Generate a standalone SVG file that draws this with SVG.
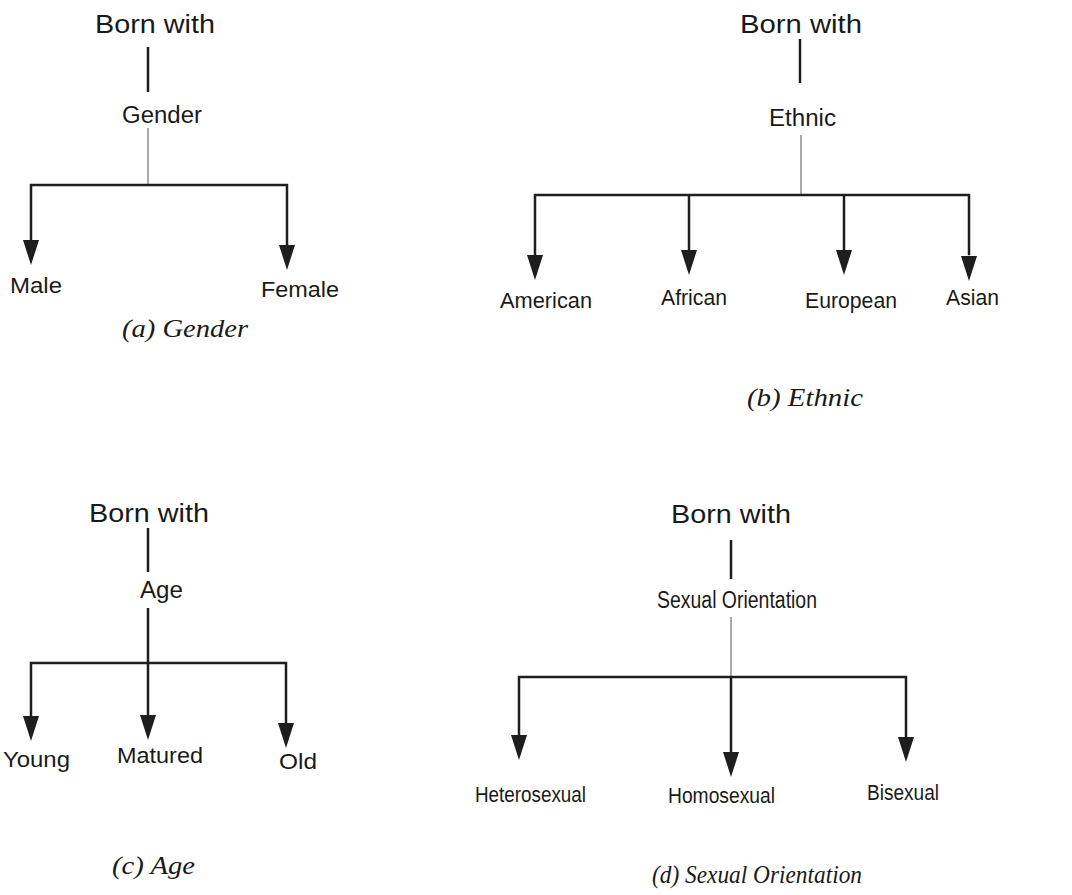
<svg xmlns="http://www.w3.org/2000/svg" width="1072" height="895" viewBox="0 0 1072 895">
  <style>
    .root { font-family: "Liberation Sans", Arial, sans-serif; font-size: 26px; fill: #1a1a1a; }
    .cat { font-family: "Liberation Sans", Arial, sans-serif; font-size: 23px; fill: #1a1a1a; }
    .leaf { font-family: "Liberation Sans", Arial, sans-serif; font-size: 22px; fill: #1a1a1a; }
    .cap { font-family: "Liberation Serif", "Times New Roman", serif; font-style: italic; font-size: 25px; fill: #1a1a1a; }
    .stem { stroke: #1e1e1e; stroke-width: 2.5; fill: none; }
    .thin { stroke: #555; stroke-width: 1; fill: none; }
    .bar { stroke: #1e1e1e; stroke-width: 2.5; fill: none; stroke-linecap: square; }
    .head { fill: #1e1e1e; }
  </style>
  <defs>
    <!-- downward arrowhead, flat top at y=0, tip at y=25 -->
    <polygon id="ah" class="head" points="-8,0 8,0 0,25"/>
  </defs>
  <rect width="1072" height="895" fill="#ffffff"/>

  <!-- connectors -->
  <g id="connectors">
    <!-- (a) gender -->
    <line class="stem" x1="148" y1="47" x2="148" y2="92"/>
    <line class="thin" x1="148" y1="128" x2="148" y2="184"/>
    <path class="bar" d="M31,240 V185 H287 V244"/>
    <use href="#ah" x="31" y="240"/>
    <use href="#ah" x="287" y="245"/>

    <!-- (b) ethnic -->
    <line class="stem" x1="800" y1="39" x2="800" y2="83"/>
    <line class="thin" x1="801" y1="135" x2="801" y2="194"/>
    <path class="bar" d="M535,256 V195 H969 V254"/>
    <line class="stem" x1="689" y1="195" x2="689" y2="250"/>
    <line class="stem" x1="844" y1="195" x2="844" y2="250"/>
    <use href="#ah" x="535" y="255"/>
    <use href="#ah" x="689" y="250"/>
    <use href="#ah" x="844" y="250"/>
    <use href="#ah" x="969" y="256"/>

    <!-- (c) age -->
    <line class="stem" x1="148" y1="528" x2="148" y2="572"/>
    <line class="stem" x1="148" y1="608" x2="148" y2="716"/>
    <path class="bar" d="M31,716 V663 H286 V722"/>
    <use href="#ah" x="31" y="716"/>
    <use href="#ah" x="148" y="715"/>
    <use href="#ah" x="286" y="723"/>

    <!-- (d) sexual orientation -->
    <line class="stem" x1="731" y1="540" x2="731" y2="579"/>
    <line class="thin" x1="731" y1="617" x2="731" y2="676"/>
    <path class="bar" d="M519,736 V677 H906 V736"/>
    <line class="stem" x1="731" y1="677" x2="731" y2="753"/>
    <use href="#ah" x="519" y="735"/>
    <use href="#ah" x="731" y="752"/>
    <use href="#ah" x="906" y="737"/>
  </g>

  <!-- (a) Gender -->
  <g id="gender-root"><text class="root" x="95" y="33" textLength="120" lengthAdjust="spacingAndGlyphs">Born with</text></g>
  <g id="gender"><text class="cat" x="122" y="123" textLength="80" lengthAdjust="spacingAndGlyphs">Gender</text></g>
  <g id="male"><text class="leaf" x="10" y="293" textLength="52" lengthAdjust="spacingAndGlyphs">Male</text></g>
  <g id="female"><text class="leaf" x="261" y="297" textLength="78" lengthAdjust="spacingAndGlyphs">Female</text></g>
  <g id="caption-a"><text class="cap" x="122" y="337" textLength="126" lengthAdjust="spacingAndGlyphs">(a) Gender</text></g>

  <!-- (b) Ethnic -->
  <g id="ethnic-root"><text class="root" x="740" y="33" textLength="122" lengthAdjust="spacingAndGlyphs">Born with</text></g>
  <g id="ethnic"><text class="cat" x="769" y="126" textLength="67" lengthAdjust="spacingAndGlyphs">Ethnic</text></g>
  <g id="american"><text class="leaf" x="500" y="308" textLength="92" lengthAdjust="spacingAndGlyphs">American</text></g>
  <g id="african"><text class="leaf" x="661" y="305" textLength="66" lengthAdjust="spacingAndGlyphs">African</text></g>
  <g id="european"><text class="leaf" x="805" y="308" textLength="92" lengthAdjust="spacingAndGlyphs">European</text></g>
  <g id="asian"><text class="leaf" x="946" y="305" textLength="53" lengthAdjust="spacingAndGlyphs">Asian</text></g>
  <g id="caption-b"><text class="cap" x="747" y="406" textLength="116" lengthAdjust="spacingAndGlyphs">(b) Ethnic</text></g>

  <!-- (c) Age -->
  <g id="age-root"><text class="root" x="89" y="522" textLength="120" lengthAdjust="spacingAndGlyphs">Born with</text></g>
  <g id="age"><text class="cat" x="140" y="598" textLength="43" lengthAdjust="spacingAndGlyphs">Age</text></g>
  <g id="young"><text class="leaf" x="3" y="767" textLength="67" lengthAdjust="spacingAndGlyphs">Young</text></g>
  <g id="matured"><text class="leaf" x="117" y="763" textLength="86" lengthAdjust="spacingAndGlyphs">Matured</text></g>
  <g id="old"><text class="leaf" x="279" y="769" textLength="38" lengthAdjust="spacingAndGlyphs">Old</text></g>
  <g id="caption-c"><text class="cap" x="112" y="874" textLength="83" lengthAdjust="spacingAndGlyphs">(c) Age</text></g>

  <!-- (d) Sexual Orientation -->
  <g id="orientation-root"><text class="root" x="671" y="523" textLength="120" lengthAdjust="spacingAndGlyphs">Born with</text></g>
  <g id="orientation"><text class="cat" x="657" y="608" font-size="22" textLength="160" lengthAdjust="spacingAndGlyphs">Sexual Orientation</text></g>
  <g id="heterosexual"><text class="leaf" x="475" y="802" font-size="23" textLength="111" lengthAdjust="spacingAndGlyphs">Heterosexual</text></g>
  <g id="homosexual"><text class="leaf" x="668" y="803" font-size="23" textLength="107" lengthAdjust="spacingAndGlyphs">Homosexual</text></g>
  <g id="bisexual"><text class="leaf" x="867" y="800" font-size="23" textLength="72" lengthAdjust="spacingAndGlyphs">Bisexual</text></g>
  <g id="caption-d"><text class="cap" x="652" y="883" textLength="210" lengthAdjust="spacingAndGlyphs">(d) Sexual Orientation</text></g>
</svg>
